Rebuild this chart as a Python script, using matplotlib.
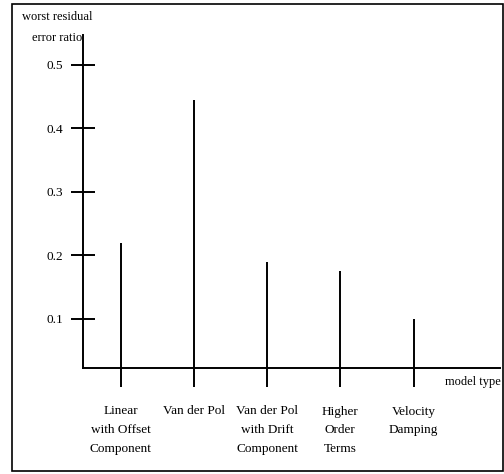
import matplotlib
matplotlib.use('Agg')
import matplotlib.pyplot as plt
from matplotlib.patches import Rectangle

# Data
categories = ['Linear\nwith Offset\nComponent', 'Van der Pol', 'Van der Pol\nwith Drift\nComponent',
              'Higher\nOrder\nTerms', 'Velocity\nDamping']
values = [0.22, 0.444, 0.189, 0.176, 0.10]
yticks = [0.1, 0.2, 0.3, 0.4, 0.5]

plt.rcParams['font.family'] = ['Liberation Serif', 'DejaVu Serif']

fig = plt.figure(figsize=(5.04, 4.74), dpi=100)
ax = fig.add_axes([83 / 504, 106 / 474, 417 / 504, 333 / 474])

ymin, ymax = 0.0228, 0.547
ax.set_ylim(ymin, ymax)
ax.set_xlim(-0.514, 5.18)

# Stem lines, running a little below the x axis
x = list(range(len(values)))
ax.vlines(x, ymin - 0.03, values, colors='black', linewidth=1.4, clip_on=False)

for side in ['top', 'right']:
    ax.spines[side].set_visible(False)
for side in ['left', 'bottom']:
    ax.spines[side].set_linewidth(1.4)

ax.set_yticks(yticks)
ax.set_yticklabels([f'{v:.1f}' for v in yticks], fontsize=9.5)
ax.tick_params(axis='y', direction='inout', length=17, width=1.4, pad=6)

ax.set_xticks(x)
ax.set_xticklabels(categories, fontsize=9.5, linespacing=1.75, va='top')
ax.tick_params(axis='x', length=0, pad=27)

fig.text(57 / 504, 1 - 27.5 / 474, 'worst residual\nerror ratio', ha='center', va='center',
         fontsize=9, linespacing=1.9)
fig.text(473 / 504, 1 - 382 / 474, 'model type', ha='center', va='center', fontsize=9)

# Outer frame
fig.patches.append(Rectangle((12 / 504, 3 / 474), 491 / 504, 467 / 474, transform=fig.transFigure,
                             fill=False, edgecolor='black', linewidth=1.2))

fig.savefig('out.png', dpi=100)
